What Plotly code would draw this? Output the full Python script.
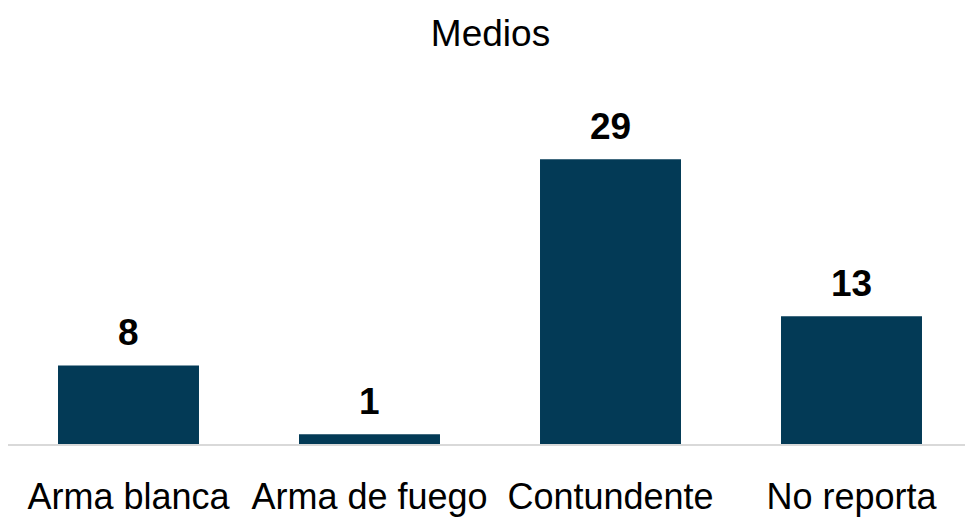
import plotly.graph_objects as go

categories = ["Arma blanca", "Arma de fuego", "Contundente", "No reporta"]
values = [8, 1, 29, 13]

FONT = "Liberation Sans, Arial, sans-serif"
BAR_COLOR = "#033a56"

fig = go.Figure()
fig.add_trace(go.Bar(
    x=categories,
    y=values,
    marker=dict(color=BAR_COLOR, line=dict(width=0)),
    hoverinfo="skip",
))

for c, v in zip(categories, values):
    fig.add_annotation(
        x=c, y=v, text=f"<b>{v}</b>", showarrow=False,
        yanchor="bottom", yshift=10,
        font=dict(family=FONT, size=37, color="#000000"),
    )

fig.update_layout(
    width=965, height=515,
    margin=dict(l=0, r=1, t=82, b=79),
    paper_bgcolor="white", plot_bgcolor="white",
    bargap=0.415,
    showlegend=False,
    title=dict(
        text="Medios", x=0.5, xanchor="center",
        y=1 - 25 / 515, yanchor="middle", yref="container",
        font=dict(family=FONT, size=37, color="#000000"),
    ),
    xaxis=dict(
        showgrid=False, showline=True, linecolor="#d9d9d9", linewidth=2,
        ticks="", tickfont=dict(family=FONT, size=36, color="#000000"),
        ticklabelstandoff=20, tickangle=0, automargin=False,
    ),
    yaxis=dict(
        range=[0, 36.05], visible=False, showgrid=False, zeroline=False,
    ),
)

fig.write_html("out.html")
